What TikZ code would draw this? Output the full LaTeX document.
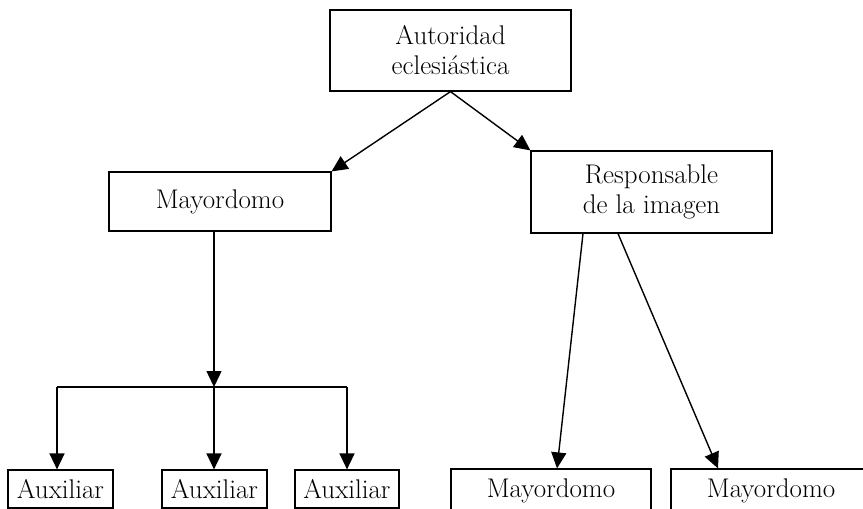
\documentclass[tikz,border=0pt]{standalone}
\usetikzlibrary{arrows.meta}
\begin{document}
\begin{tikzpicture}[x=1pt,y=-1pt,
    box/.style={draw,line width=1.2pt,inner sep=0pt,align=center,
        font=\fontsize{27}{30}\selectfont},
    link/.style={line width=1.4pt,-{Triangle[length=16pt,width=15pt]}},
    plain/.style={line width=1.4pt}]
            \clip (0,0) rectangle (863,509);
            \useasboundingbox (0,0) rectangle (863,509);

            \node[box,minimum width=241pt,minimum height=81pt] (autoridad) at (450.5,50.5)
                {Autoridad\\eclesiástica};
            \node[box,minimum width=222pt,minimum height=59pt] (mayordomo) at (220,201.5)
                {Mayordomo};
            \node[box,minimum width=241pt,minimum height=82pt] (responsable) at (651.5,192)
                {Responsable\\de la imagen};

            \node[box,minimum width=105pt,minimum height=38pt] (auxA) at (60.5,489) {Auxiliar};
            \node[box,minimum width=105pt,minimum height=38pt] (auxB) at (214.5,489) {Auxiliar};
            \node[box,minimum width=104pt,minimum height=38pt] (auxC) at (347,489) {Auxiliar};

            \node[box,minimum width=200pt,text height=28pt,text depth=40pt,anchor=base]
                (mayordomoA) at (551,497) {Mayordomo};
            \node[box,minimum width=200pt,text height=28pt,text depth=40pt,anchor=base]
                (mayordomoB) at (771,497) {Mayordomo};

            \draw[link] (autoridad.south) -- (mayordomo.north east);
            \draw[link] (autoridad.south) -- (responsable.north west);

            \coordinate (split) at (214,387);
            \coordinate (splitL) at (57,387);
            \coordinate (splitR) at (347,387);
            \draw[link] (mayordomo.south -| split) -- (split);
            \draw[plain] (splitL) -- (splitR);
            \draw[link] (splitL) -- (splitL |- auxA.north);
            \draw[link] (split) -- (split |- auxB.north);
            \draw[link] (splitR) -- (splitR |- auxC.north);

            \draw[link] ([xshift=-68.5pt]responsable.south) -- ([xshift=6pt]mayordomoA.north);
            \draw[link] ([xshift=-33.5pt]responsable.south) -- ([xshift=-53pt]mayordomoB.north);
        \end{tikzpicture}
\end{document}
